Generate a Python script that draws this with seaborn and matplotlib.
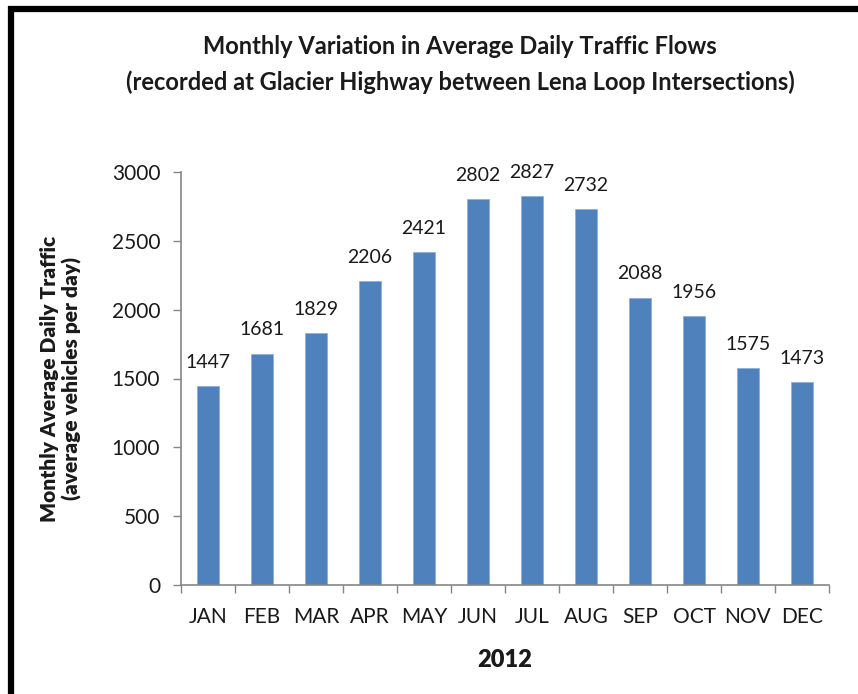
import matplotlib
matplotlib.use("Agg")
import matplotlib.pyplot as plt
import seaborn as sns
import pandas as pd
import numpy as np
from matplotlib.lines import Line2D

months = ["JAN", "FEB", "MAR", "APR", "MAY", "JUN", "JUL", "AUG", "SEP", "OCT", "NOV", "DEC"]
traffic = [1447, 1681, 1829, 2206, 2421, 2802, 2827, 2732, 2088, 1956, 1575, 1473]
yticks = [0, 500, 1000, 1500, 2000, 2500, 3000]

sns.set_theme(style="white")
plt.rcParams['font.family'] = ['Lato', 'DejaVu Sans']

df = pd.DataFrame({"month": months, "traffic": traffic})

fig = plt.figure(figsize=(8.58, 6.94), dpi=100)
ax = fig.add_axes([181/858, 1-585/694, (829-181)/858, (585-172)/694])

sns.barplot(data=df, x="month", y="traffic", color="#4F81BD", width=0.4,
            saturation=1, edgecolor="#8DB0DB", linewidth=0.6, ax=ax)

ax.set_ylim(0, 3000)
ax.set_xlim(-0.5, len(months) - 0.5)
ax.set_yticks(yticks)
ax.set_yticklabels([str(v) for v in yticks], fontsize=15, color="#1a1a1a")
ax.set_xticks(range(len(months)))
ax.set_xticklabels(months, fontsize=15, color="#1a1a1a")
ax.set_xticks(np.arange(-0.5, len(months), 1.0), minor=True)
ax.tick_params(axis="x", which="major", length=0, pad=16)
ax.tick_params(axis="x", which="minor", length=6, width=1, color="#868686", direction="out", bottom=True)
ax.tick_params(axis="y", which="major", length=6, width=1, color="#868686", direction="out", left=True, pad=9)

for s in ["top", "right"]:
    ax.spines[s].set_visible(False)
for s in ["left", "bottom"]:
    ax.spines[s].set_color("#868686")
    ax.spines[s].set_linewidth(1.2)

for i, v in enumerate(traffic):
    ax.text(i, v + 110, str(v), ha="center", va="bottom", fontsize=14, color="#1a1a1a")

ax.set_xlabel("2012", fontsize=17, fontweight="heavy", labelpad=16, color="#1a1a1a")
ax.set_ylabel("Monthly Average Daily Traffic\n(average vehicles per day)", fontsize=15,
              fontweight="heavy", labelpad=21, linespacing=1.2, color="#1a1a1a")

fig.text(460/858, 1-47/694, "Monthly Variation in Average Daily Traffic Flows",
         ha="center", va="center", fontsize=17, fontweight="bold", color="#1a1a1a")
fig.text(460/858, 1-82/694, "(recorded at Glacier Highway between Lena Loop Intersections)",
         ha="center", va="center", fontsize=17, fontweight="bold", color="#1a1a1a")

# black frame (top and left edges)
fig.add_artist(Line2D([8/858, 1.0], [1-9/694, 1-9/694], color="black", linewidth=4.5,
                      transform=fig.transFigure, solid_capstyle="butt"))
fig.add_artist(Line2D([11/858, 11/858], [1-6/694, 0.0], color="black", linewidth=4.5,
                      transform=fig.transFigure, solid_capstyle="butt"))

fig.savefig("out.png", dpi=100)
